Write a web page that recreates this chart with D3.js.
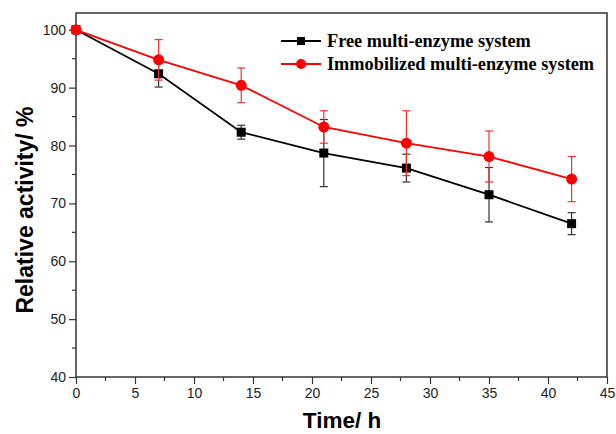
<!DOCTYPE html>
<html>
<head>
<meta charset="utf-8">
<script src="https://cdn.jsdelivr.net/npm/d3@7"></script>
<style>
  body { margin: 0; background: #fff; }
  svg { display: block; }
</style>
</head>
<body>
<div id="chart"></div>
<script>
// 数据
const times = [0, 7, 14, 21, 28, 35, 42];
const freeValues = [100, 92.4, 82.3, 78.7, 76.1, 71.5, 66.5];
const freeErrors = [0, 2.3, 1.2, 5.8, 2.4, 4.7, 1.9];
const immobValues = [100, 94.8, 90.4, 83.2, 80.4, 78.1, 74.2];
const immobErrors = [0, 3.5, 3.0, 2.8, 5.6, 4.4, 3.9];
const seriesNames = ["Free multi-enzyme system", "Immobilized multi-enzyme system"];
const xTicks = [0, 5, 10, 15, 20, 25, 30, 35, 40, 45];
const yTicks = [40, 50, 60, 70, 80, 90, 100];

const width = 616, height = 434;
const margin = {top: 13, right: 9, bottom: 57, left: 76};
const innerW = width - margin.left - margin.right;
const innerH = height - margin.top - margin.bottom;

const svg = d3.select("#chart").append("svg")
    .attr("width", width)
    .attr("height", height);

const g = svg.append("g")
    .attr("transform", `translate(${margin.left},${margin.top})`);

const xScale = d3.scaleLinear().domain([0, 45]).range([0, innerW]);
const yScale = d3.scaleLinear().domain([40, 102.9]).range([innerH, 0]);

// 边框
g.append("rect")
    .attr("width", innerW).attr("height", innerH)
    .style("fill", "none")
    .style("stroke", "#333")
    .style("stroke-width", 1.5);

// 次刻度
const minorX = d3.range(2.5, 45, 5);
const minorY = d3.range(45, 101, 10);
g.selectAll(".mx").data(minorX).enter().append("line")
    .attr("x1", d => xScale(d)).attr("x2", d => xScale(d))
    .attr("y1", innerH).attr("y2", innerH + 4)
    .style("stroke", "#333").style("stroke-width", 1.2);
g.selectAll(".my").data(minorY).enter().append("line")
    .attr("y1", d => yScale(d)).attr("y2", d => yScale(d))
    .attr("x1", 0).attr("x2", -4)
    .style("stroke", "#333").style("stroke-width", 1.2);

// 坐标轴
const xAxis = g.append("g")
    .attr("transform", `translate(0,${innerH})`)
    .call(d3.axisBottom(xScale).tickValues(xTicks).tickSize(7).tickPadding(4));
const yAxis = g.append("g")
    .call(d3.axisLeft(yScale).tickValues(yTicks).tickSize(7).tickPadding(3));

[xAxis, yAxis].forEach(a => {
    a.select(".domain").remove();
    a.selectAll(".tick line").style("stroke", "#333").style("stroke-width", 1.2);
    a.selectAll(".tick text")
        .style("font-family", "Liberation Sans, Arial, sans-serif")
        .style("font-size", "14px")
        .style("fill", "#222");
});

// 轴标题
svg.append("text")
    .attr("x", 342)
    .attr("y", 428)
    .attr("text-anchor", "middle")
    .style("font-family", "Liberation Sans, Arial, sans-serif")
    .style("font-weight", "bold")
    .style("font-size", "22.5px")
    .text("Time/ h");

svg.append("text")
    .attr("transform", `translate(33,210) rotate(-90)`)
    .attr("text-anchor", "middle")
    .style("font-family", "Liberation Sans, Arial, sans-serif")
    .style("font-weight", "bold")
    .style("font-size", "23px")
    .text("Relative activity/ %");

const series = [
    {name: seriesNames[0], values: freeValues, errors: freeErrors, color: "#000", errColor: "#333", shape: "square"},
    {name: seriesNames[1], values: immobValues, errors: immobErrors, color: "#ff0000", errColor: "#ee3333", shape: "circle"}
];

const line = d3.line()
    .x(d => xScale(d.t))
    .y(d => yScale(d.v));

series.forEach(s => {
    const pts = times.map((t, i) => ({t, v: s.values[i], e: s.errors[i]}));

    // 误差线
    pts.filter(p => p.e > 0).forEach(p => {
        const cx = xScale(p.t);
        const y1 = yScale(p.v + p.e), y2 = yScale(p.v - p.e);
        g.append("line")
            .attr("x1", cx).attr("x2", cx).attr("y1", y1).attr("y2", y2)
            .style("stroke", s.errColor).style("stroke-width", 1.2);
        [y1, y2].forEach(y => {
            g.append("line")
                .attr("x1", cx - 4).attr("x2", cx + 4).attr("y1", y).attr("y2", y)
                .style("stroke", s.errColor).style("stroke-width", 1.2);
        });
    });

    g.append("path")
        .datum(pts)
        .attr("d", line)
        .style("fill", "none")
        .style("stroke", s.color)
        .style("stroke-width", 1.8);

    pts.forEach(p => {
        if (s.shape === "square") {
            g.append("rect")
                .attr("x", xScale(p.t) - 4.5).attr("y", yScale(p.v) - 4.5)
                .attr("width", 9).attr("height", 9)
                .style("fill", s.color);
        } else {
            g.append("circle")
                .attr("cx", xScale(p.t)).attr("cy", yScale(p.v))
                .attr("r", 5.5)
                .style("fill", s.color);
        }
    });
});

// 图例
const legend = svg.append("g");
series.forEach((s, i) => {
    const y = 41 + i * 23;
    legend.append("line")
        .attr("x1", 281).attr("x2", 321).attr("y1", y).attr("y2", y)
        .style("stroke", s.color).style("stroke-width", 1.8);
    if (s.shape === "square") {
        legend.append("rect")
            .attr("x", 297).attr("y", y - 4).attr("width", 8).attr("height", 8)
            .style("fill", s.color);
    } else {
        legend.append("circle")
            .attr("cx", 301).attr("cy", y).attr("r", 5)
            .style("fill", s.color);
    }
    legend.append("text")
        .attr("x", 327).attr("y", y + 6)
        .style("font-family", "Liberation Serif, Times New Roman, serif")
        .style("font-weight", "bold")
        .style("font-size", "18.3px")
        .text(s.name);
});
</script>
</body>
</html>
